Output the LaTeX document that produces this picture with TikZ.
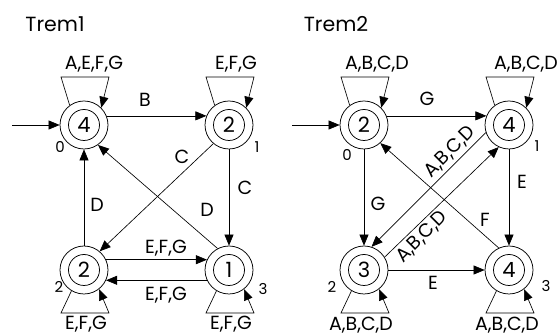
\documentclass[tikz,border=0pt]{standalone}
\usepackage{fontspec}
\setmainfont{Poppins}
\usetikzlibrary{arrows.meta}
\begin{document}
\begin{tikzpicture}[x=1pt,y=-1pt,
  state/.style={circle,draw,line width=0.75pt,minimum size=48pt,inner sep=0pt,
    font=\fontsize{21}{21}\selectfont},
  inner/.style={line width=0.75pt},
  arr/.style={line width=0.65pt,-{Triangle[length=11pt,width=9pt]}},
  lbl/.style={font=\fontsize{19}{19}\selectfont,inner sep=0pt},
  idx/.style={font=\fontsize{15}{15}\selectfont,inner sep=0pt},
  ttl/.style={font=\fontsize{20.5}{20.5}\selectfont,inner sep=0pt}]
\useasboundingbox (0,0) rectangle (560,336);

% ---------------- Trem1 ----------------
\node[ttl] (t1) at (55,24) {Trem1};
\node[state] (L0) at (84,125) {4};
\node[state] (L1) at (229,125) {2};
\node[state] (L2) at (84,270) {2};
\node[state] (L3) at (229,270) {1};
\foreach \n in {L0,L1,L2,L3} \draw[inner] (\n.center) circle (15.5pt);

\node[idx] (iL0) at (60,147) {0};
\node[idx] (iL1) at (257,147) {1};
\node[idx] (iL2) at (59,287) {2};
\node[idx] (iL3) at (263,289) {3};

\coordinate (s1) at (12,125);
\draw[arr] (s1) -- (L0);
\draw[arr] (L0.22) -- (L1.158);
\draw[arr] (L1.south) -- (L3.north);
\draw[arr] (L2.north) -- (L0.south);
\draw[arr] (L1.230) -- (L2.50);
\draw[arr] (L3.118) -- (L0.-55);
\draw[arr] (L2.25) -- (L3.155);
\draw[arr] (L3.-155) -- (L2.-25);

% self loops
\draw[arr] (L0.126) -- ([shift={(-23,-48)}]L0.center) -- ([shift={(25,-48)}]L0.center) -- (L0.45);
\draw[arr] (L1.126) -- ([shift={(-23,-48)}]L1.center) -- ([shift={(25,-48)}]L1.center) -- (L1.45);
\draw[arr] (L2.239) -- ([shift={(-23,43)}]L2.center) -- ([shift={(25,43)}]L2.center) -- (L2.-52);
\draw[arr] (L3.239) -- ([shift={(-23,43)}]L3.center) -- ([shift={(25,43)}]L3.center) -- (L3.-52);

\node[lbl] (lL0) at (94,64) {A,E,F,G};
\node[lbl] (lL1) at (236,64) {E,F,G};
\node[lbl] (lL2) at (86,324) {E,F,G};
\node[lbl] (lL3) at (231,324) {E,F,G};
\node[lbl] (eB) at (145,100) {B};
\node[lbl] (eC1) at (245,188) {C};
\node[lbl] (eC2) at (182,157) {C};
\node[lbl] (eD1) at (97,205) {D};
\node[lbl] (eD2) at (207,210) {D};
\node[lbl] (eE1) at (166,248) {E,F,G};
\node[lbl] (eE2) at (166,295) {E,F,G};

% ---------------- Trem2 ----------------
\node[ttl] (t2) at (336,24) {Trem2};
\node[state] (R0) at (364,125) {2};
\node[state] (R1) at (509,125) {4};
\node[state] (R2) at (364,270) {3};
\node[state] (R3) at (509,270) {4};
\foreach \n in {R0,R1,R2,R3} \draw[inner] (\n.center) circle (15.5pt);

\node[idx] (iR0) at (347,155) {0};
\node[idx] (iR1) at (537,146) {1};
\node[idx] (iR2) at (332,287) {2};
\node[idx] (iR3) at (546,286) {3};

\coordinate (s2) at (292,125);
\draw[arr] (s2) -- (R0);
\draw[arr] (R0.22) -- (R1.158);
\draw[arr] (R0.south) -- (R2.north);
\draw[arr] (R1.south) -- (R3.north);
\draw[arr] (R2) -- (R3);
\draw[arr] (R3.115) -- (R0.-48);
\draw[arr] (R1.198) -- (R2.72);
\draw[arr] (R2.32) -- (R1.245);

\draw[arr] (R0.126) -- ([shift={(-23,-48)}]R0.center) -- ([shift={(25,-48)}]R0.center) -- (R0.45);
\draw[arr] (R1.126) -- ([shift={(-23,-48)}]R1.center) -- ([shift={(25,-48)}]R1.center) -- (R1.45);
\draw[arr] (R2.239) -- ([shift={(-23,43)}]R2.center) -- ([shift={(25,43)}]R2.center) -- (R2.-52);
\draw[arr] (R3.239) -- ([shift={(-23,43)}]R3.center) -- ([shift={(25,43)}]R3.center) -- (R3.-52);

\node[lbl] (lR0) at (377,64) {A,B,C,D};
\node[lbl] (lR1) at (526,64) {A,B,C,D};
\node[lbl] (lR2) at (361,325) {A,B,C,D};
\node[lbl] (lR3) at (507,325) {A,B,C,D};
\node[lbl] (eG1) at (427,99) {G};
\node[lbl] (eG2) at (378,204) {G};
\node[lbl] (eE3) at (522,182) {E};
\node[lbl] (eE4) at (433,283) {E};
\node[lbl] (eF) at (485,220) {F};
\node[lbl,rotate=45] (eX1) at (450,152) {A,B,C,D};
\node[lbl,rotate=45] (eX2) at (422,237) {A,B,C,D};
\end{tikzpicture}
\end{document}
